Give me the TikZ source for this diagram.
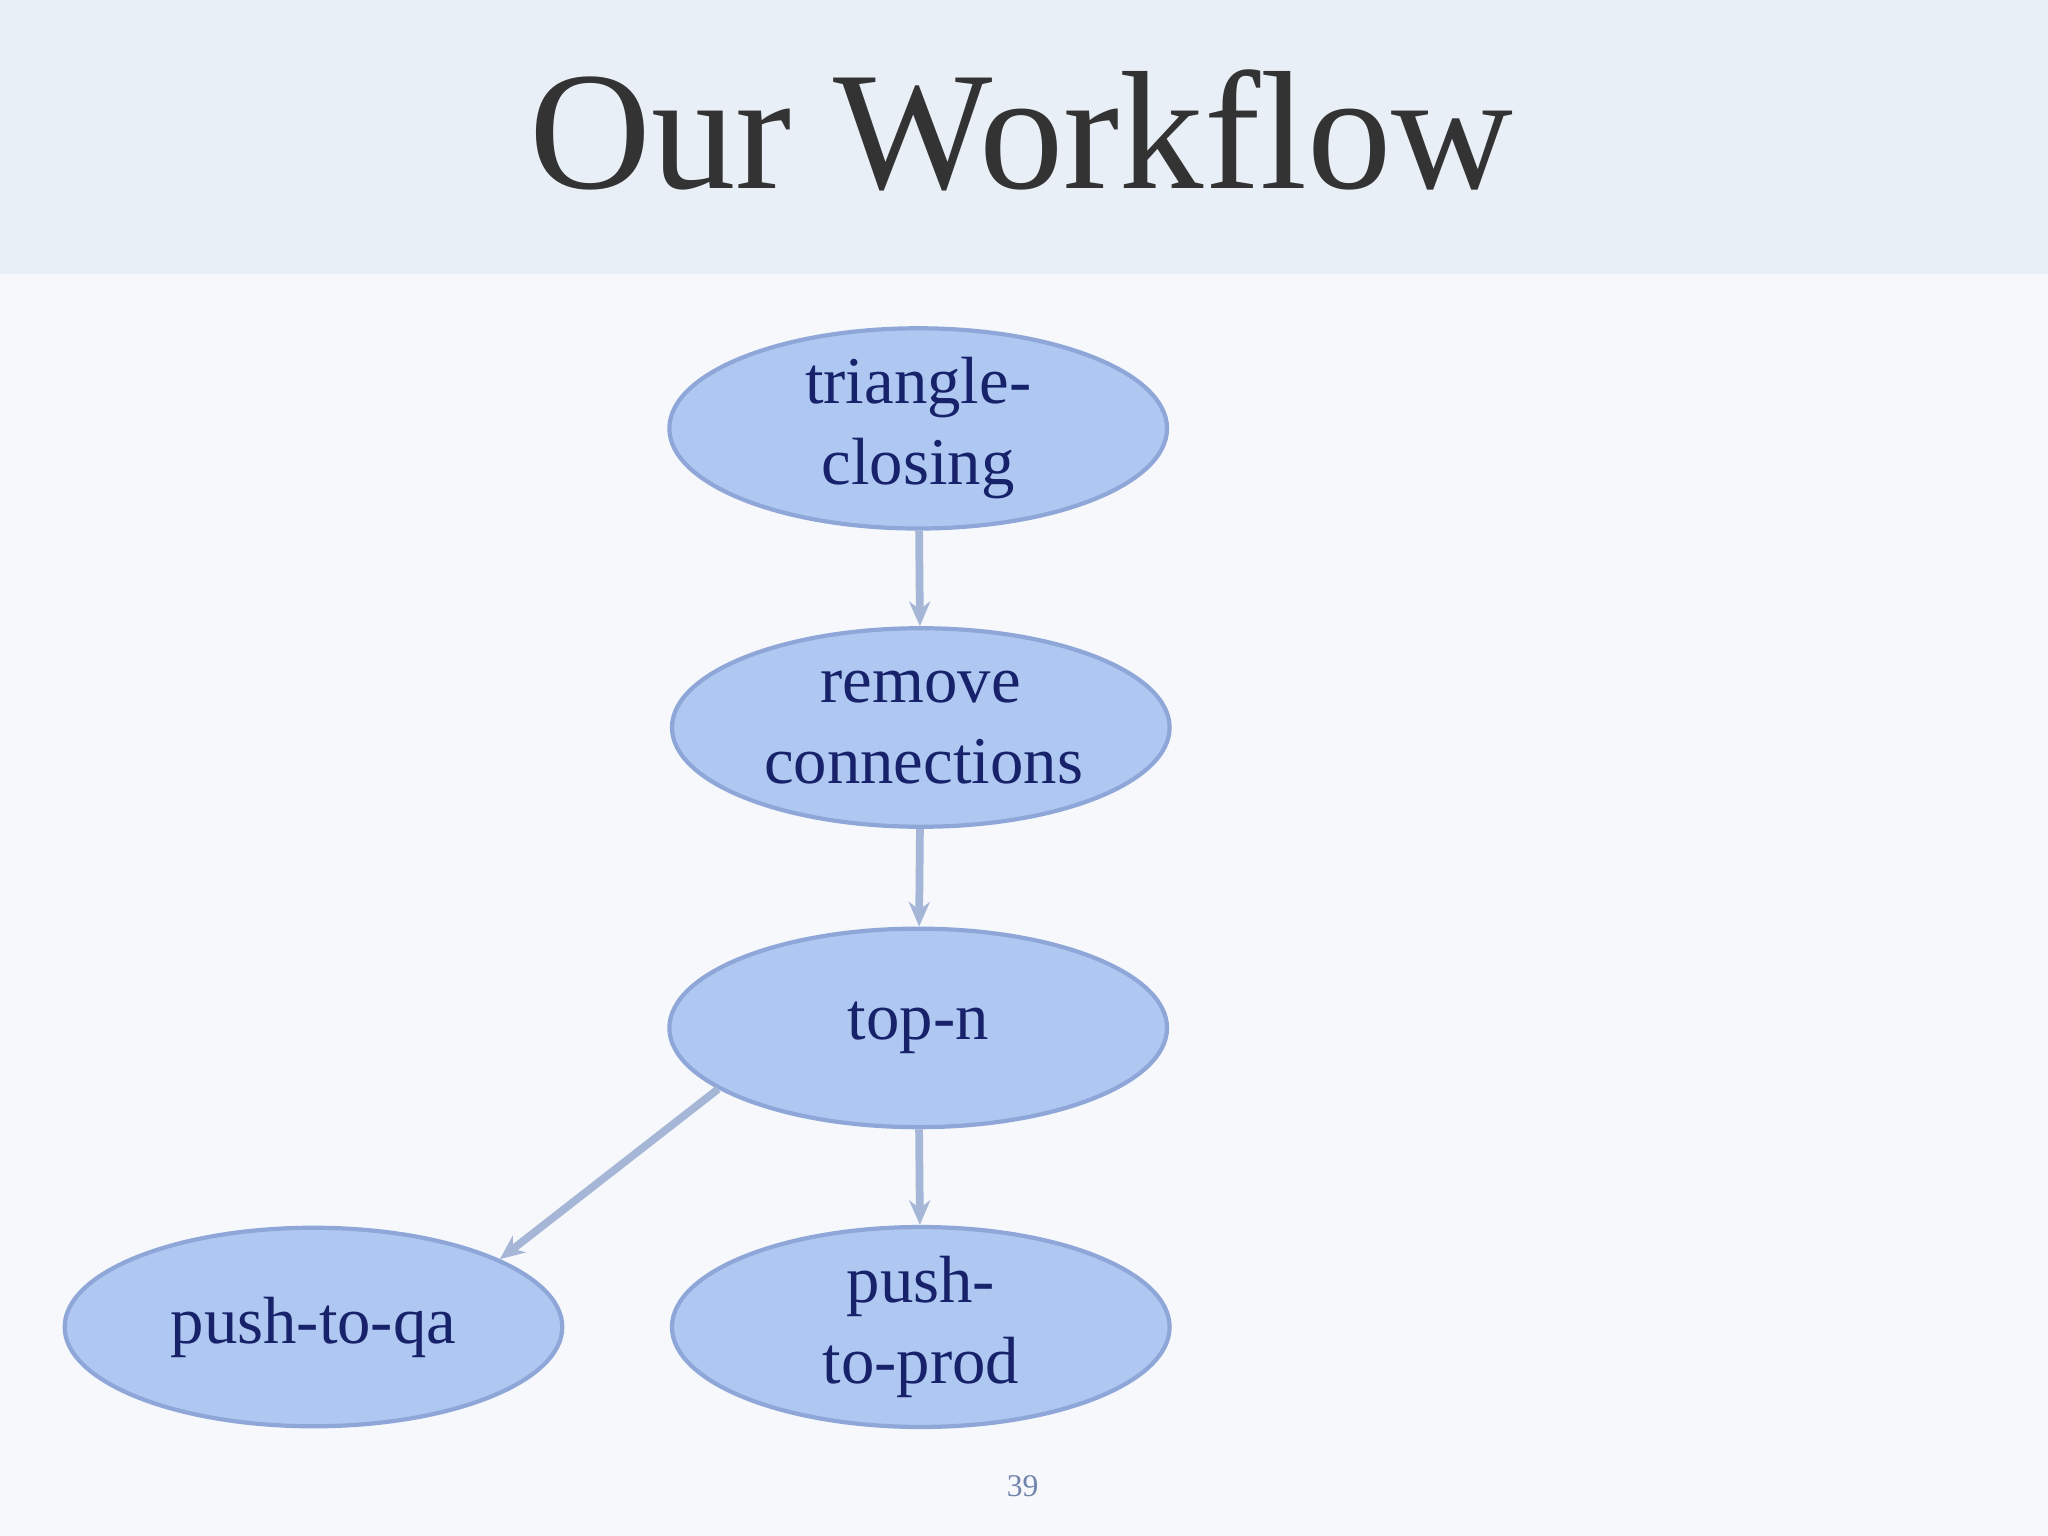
\documentclass[tikz,border=0pt]{standalone}
\usepackage{fontspec}
\setmainfont{Liberation Serif}
\usetikzlibrary{shapes.geometric,arrows.meta}
\definecolor{bandc}{HTML}{E9EFF6}
\definecolor{bgc}{HTML}{F6F8FB}
\definecolor{nodefill}{HTML}{AFC8F1}
\definecolor{nodeline}{HTML}{8FA7D8}
\definecolor{txtc}{HTML}{17226A}
\definecolor{arrc}{HTML}{A6B6D6}
\newlength{\myu}\setlength{\myu}{0.01306cm}
\tikzset{
 flow/.style={ellipse,draw=nodeline,fill=nodefill,line width=1.2pt,minimum width=381\myu,minimum height=152\myu,inner sep=0pt,text=txtc,font=\fontsize{19}{23}\selectfont,align=center,text width=240\myu},
 conn/.style={draw=arrc,line width=2.2pt,-{Stealth[length=7pt,width=6pt]}}
}
\begin{document}
\begin{tikzpicture}[x=0.01306cm,y=-0.01306cm]
\fill[bgc] (0,0) rectangle (1568,1176);
\fill[bandc] (0,0) rectangle (1568,210);
\node[text=black!80,font=\fontsize{48}{54}\selectfont] (title) at (782,100) {Our Workflow};
\node[flow] (tc) at (703,328) {triangle-closing};
\node[flow] (rc) at (705,557) {remove\\connections};
\node[flow] (tn) at (703,787) {top-n};
\node[flow] (qa) at (240,1016) {push-to-qa};
\node[flow] (pp) at (705,1016) {push-to-prod};
\draw[conn] (tc) -- (rc);
\draw[conn] (rc) -- (tn);
\draw[conn] (tn) -- (pp);
\draw[conn] (tn.-163) -- (qa.20);
\node[text=nodeline!80!black,font=\fontsize{9}{11}\selectfont] (pg) at (783,1138) {39};
\end{tikzpicture}
\end{document}
